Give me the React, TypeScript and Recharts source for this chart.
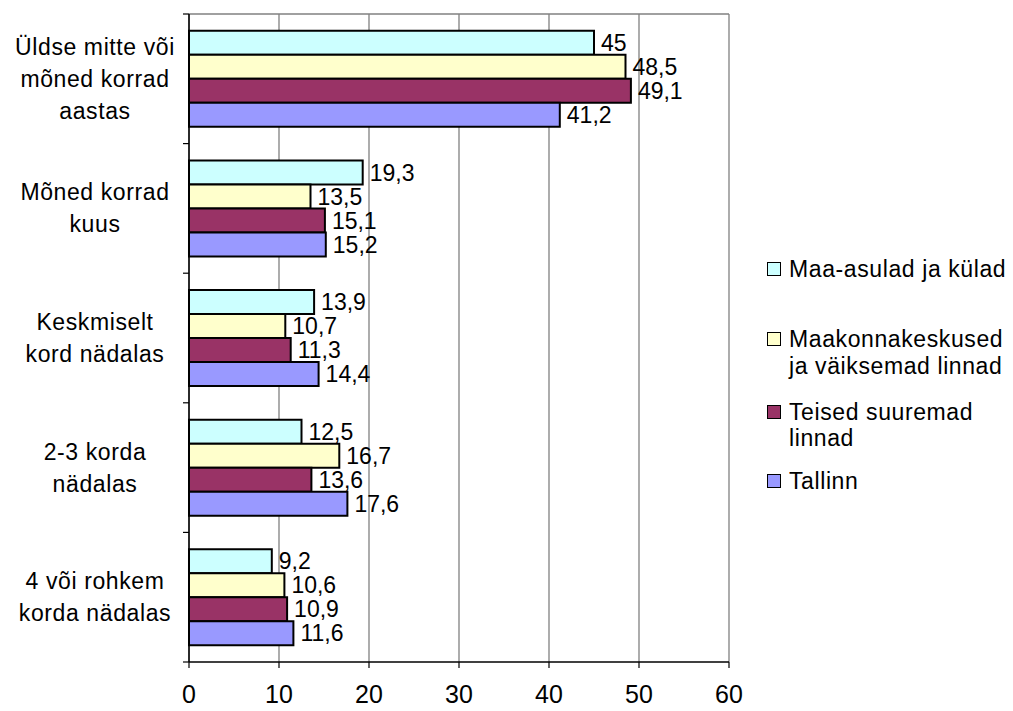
import React from 'react';
import { BarChart, Bar, XAxis, YAxis, CartesianGrid, LabelList, ReferenceLine } from 'recharts';

const categories = [
  'Üldse mitte või\nmõned korrad\naastas',
  'Mõned korrad\nkuus',
  'Keskmiselt\nkord nädalas',
  '2-3 korda\nnädalas',
  '4 või rohkem\nkorda nädalas',
];
const maaAsulad = [45, 19.3, 13.9, 12.5, 9.2];
const maakonnakeskused = [48.5, 13.5, 10.7, 16.7, 10.6];
const teisedLinnad = [49.1, 15.1, 11.3, 13.6, 10.9];
const tallinn = [41.2, 15.2, 14.4, 17.6, 11.6];
const seriesKeys = ['maa', 'maak', 'teised', 'tallinn'];
const seriesNames = [
  'Maa-asulad ja külad',
  'Maakonnakeskused\nja väiksemad linnad',
  'Teised suuremad\nlinnad',
  'Tallinn',
];
const seriesColors = ['#CCFFFF', '#FFFFCC', '#993366', '#9999FF'];
const xTicks = [0, 10, 20, 30, 40, 50, 60];

const data = categories.map((name, i) => ({
  name,
  maa: maaAsulad[i],
  maak: maakonnakeskused[i],
  teised: teisedLinnad[i],
  tallinn: tallinn[i],
}));

const FONT = '"Liberation Sans", Arial, sans-serif';

const CatTick = (props: any) => {
  const { x, y, payload, index, visibleTicksCount } = props;
  const half = payload && payload.offset ? payload.offset : 64.8;
  const lines = String(payload.value).split('\n');
  const lh = 32;
  const y0 = y - ((lines.length - 1) * lh) / 2;
  const isLast = index === (visibleTicksCount ?? categories.length) - 1;
  return (
    <g>
      <line x1={x} x2={x + 6} y1={y - half} y2={y - half} stroke="#000" strokeWidth={1.2} />
      {isLast && <line x1={x} x2={x + 6} y1={y + half} y2={y + half} stroke="#000" strokeWidth={1.2} />}
      <text x={x - 88} y={y0} textAnchor="middle" fontSize={23} fontFamily={FONT} fill="#000" style={{ letterSpacing: 0.6 }}>
        {lines.map((l, i) => (
          <tspan key={i} x={x - 88} y={y0 + i * lh} dominantBaseline="central">
            {l}
          </tspan>
        ))}
      </text>
    </g>
  );
};

const fmt = (v: any) => String(v).replace('.', ',');

const legendTops = [[269], [339, 366], [412, 438], [481]];

export default function App() {
  return (
    <div style={{ position: 'absolute', left: 0, top: 0, width: 1013, height: 711, background: '#fff' }}>
      <BarChart
        width={1013}
        height={711}
        data={data}
        layout="vertical"
        margin={{ top: 14, right: 284, bottom: 0, left: 0 }}
        barCategoryGap="13%"
        barGap={0}
      >
        <CartesianGrid horizontal={false} stroke="#808080" strokeWidth={1.3} />
        <ReferenceLine y={categories[0]} position="start" stroke="#808080" strokeWidth={1.3} ifOverflow="visible" />
        <XAxis
          type="number"
          domain={[0, 60]}
          ticks={xTicks}
          interval={0}
          height={49}
          tickSize={6}
          tickMargin={17}
          axisLine={{ stroke: '#000', strokeWidth: 1.5 }}
          tickLine={{ stroke: '#000', strokeWidth: 1.2 }}
          tick={{ fontSize: 25, fill: '#000', fontFamily: FONT }}
        />
        <YAxis
          type="category"
          dataKey="name"
          width={189}
          interval={0}
          tickSize={6}
          tickMargin={0}
          tickLine={false}
          axisLine={{ stroke: '#000', strokeWidth: 1.5 }}
          tick={<CatTick />}
        />
        {seriesKeys.map((k, i) => (
          <Bar key={k} dataKey={k} fill={seriesColors[i]} stroke="#000" strokeWidth={2} isAnimationActive={false}>
            <LabelList
              dataKey={k}
              position="right"
              offset={7}
              formatter={fmt}
              style={{ fontSize: 23, fill: '#000', fontFamily: FONT }}
            />
          </Bar>
        ))}
      </BarChart>
      {seriesNames.map((name, i) => {
        const lines = name.split('\n');
        const tops = legendTops[i];
        return (
          <React.Fragment key={i}>
            <div
              style={{
                position: 'absolute',
                left: 767,
                top: tops[0] - 7,
                width: 12,
                height: 12,
                background: seriesColors[i],
                border: '1.5px solid #000',
              }}
            />
            {lines.map((l, j) => (
              <div
                key={j}
                style={{
                  position: 'absolute',
                  left: 789,
                  top: tops[j] - 14,
                  height: 28,
                  lineHeight: '28px',
                  fontSize: 23,
                  fontFamily: FONT,
                  color: '#000',
                  whiteSpace: 'nowrap',
                  letterSpacing: 0.6,
                }}
              >
                {l}
              </div>
            ))}
          </React.Fragment>
        );
      })}
    </div>
  );
}
